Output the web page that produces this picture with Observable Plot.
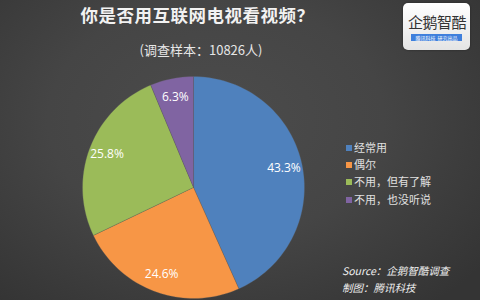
<!DOCTYPE html>
<html>
<head>
<meta charset="utf-8">
<script src="https://cdn.jsdelivr.net/npm/d3@7"></script>
<script src="https://cdn.jsdelivr.net/npm/@observablehq/plot@0.6"></script>
<style>
  html, body { margin: 0; padding: 0; }
  body {
    width: 480px; height: 300px; overflow: hidden; position: relative;
    background: radial-gradient(ellipse 70% 80% at 45% 40%, #4c4c4c 0%, #454545 50%, #343434 100%);
    font-family: "Noto Sans CJK SC", "Noto Sans", sans-serif;
  }
  .abs { position: absolute; white-space: nowrap; }
  #title { left: 0; width: 395px; top: 2px; text-align: center; color: #f2f2f2; font-size: 17.5px; font-weight: bold; letter-spacing: 0.5px; }
  #subtitle { left: 0; width: 402px; top: 40px; text-align: center; color: #e6e6e6; font-size: 13px; }
  #chart { position: absolute; left: 0; top: 0; }
  #legend { left: 346px; top: 139px; color: #e0e0e0; font-size: 11px; line-height: 17.2px; }
  #legend .sw { display: inline-block; width: 6px; height: 6px; margin-right: 2px; vertical-align: 1px; }
  .src { left: 342px; color: #f0f0f0; font-size: 10.5px; font-style: italic; line-height: 12px; }
  #logo { left: 403px; top: 3px; width: 67px; height: 47px; border-radius: 5px;
    background: linear-gradient(#ffffff, #e4e4e4); box-shadow: 0 0 2px #222; }
  #logo .name { position: absolute; left: 5px; top: 10px; font-size: 15px; color: #333; letter-spacing: -0.5px; line-height: 18px; }
  #logo .bar { position: absolute; left: 8px; top: 31px; width: 51px; height: 7px; background: #3f7fdc; color: #fff; font-size: 5px; line-height: 7px; text-align: center; }
</style>
</head>
<body>
<div id="title" class="abs">你是否用互联网电视看视频？</div>
<div id="subtitle" class="abs">(调查样本：10826人)</div>
<div id="chart"></div>
<div id="legend" class="abs"></div>
<div class="abs src" style="top:265px">Source：企鹅智酷调查</div>
<div class="abs src" style="top:282px">制图：腾讯科技</div>
<div id="logo" class="abs"><div class="name">企鹅智酷</div><div class="bar">腾讯科技 &nbsp;研究出品</div></div>
<script>
const categories = ["经常用", "偶尔", "不用，但有了解", "不用，也没听说"];
const values = [43.3, 24.6, 25.8, 6.3];
const labels = ["43.3%", "24.6%", "25.8%", "6.3%"];
const colors = ["#4f81bd", "#f79646", "#9bbb59", "#8064a2"];

// Build slices as geo polygons (pole = pie center, equator = pie rim)
const total = d3.sum(values);
let acc = 0;
const slices = categories.map((c, i) => {
  const a0 = acc / total * 360;
  acc += values[i];
  const a1 = acc / total * 360;
  const ring = [[0, 90]];
  const n = Math.max(2, Math.ceil((a1 - a0) / 2));
  for (let k = 0; k <= n; k++) {
    const t = a0 + (a1 - a0) * k / n;
    ring.push([180 - t, 0]);
  }
  ring.push([0, 90]);
  return {
    type: "Feature",
    properties: {category: c, label: labels[i], mid: (a0 + a1) / 2},
    geometry: {type: "Polygon", coordinates: [ring]}
  };
});

const rim = d3.geoCircle().center([0, 90]).radius(90)();

const plot = Plot.plot({
  width: 480,
  height: 300,
  marginLeft: 82,
  marginRight: 176,
  marginTop: 76,
  marginBottom: 2,
  projection: {type: "azimuthal-equidistant", rotate: [0, -90], domain: rim},
  color: {domain: categories, range: colors},
  style: {background: "transparent"},
  marks: [
    Plot.geo(slices, {fill: d => d.properties.category, stroke: "#5a5a5a", strokeWidth: 0.3}),
    Plot.text(slices, {
      x: d => 180 - d.properties.mid,
      y: 15,
      text: d => d.properties.label,
      fill: "white",
      fontSize: 12,
      fontFamily: "Open Sans, Noto Sans, sans-serif"
    })
  ]
});
document.getElementById("chart").appendChild(plot);

const legend = document.getElementById("legend");
categories.forEach((c, i) => {
  const row = document.createElement("div");
  row.innerHTML = `<span class="sw" style="background:${colors[i]}"></span>${c}`;
  legend.appendChild(row);
});
</script>
</body>
</html>
